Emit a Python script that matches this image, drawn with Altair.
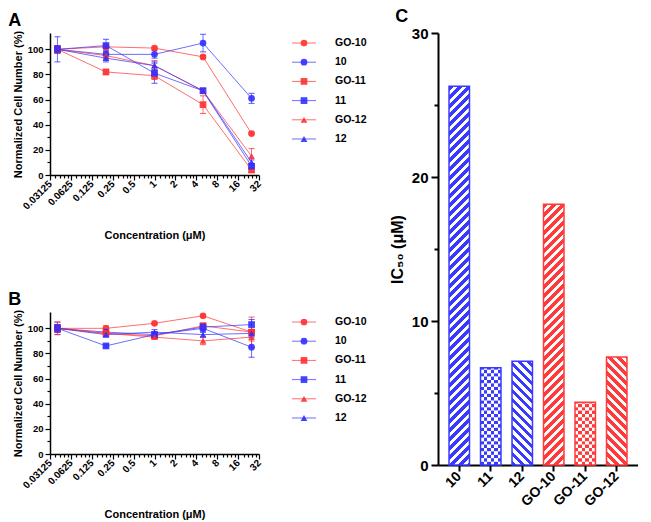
import math
import altair as alt
import pandas as pd

# ---------------- data ----------------
conc = [0.04, 0.2, 1, 5, 25]
series = ["GO-10", "10", "GO-11", "11", "GO-12", "12"]
series_colors = ["#ff3030", "#3030ff", "#ff3030", "#3030ff", "#ff3030", "#3030ff"]
series_shapes = ["circle", "circle", "square", "square", "triangle-up", "triangle-up"]

a_go10 = [100, 102, 101, 94, 33]
a_10 = [100, 96, 96, 105, 61]
a_go11 = [100, 82, 79, 56, 4]
a_11 = [100, 103, 81, 67, 7]
a_go12 = [100, 95, 87, 67, 15]
a_12 = [100, 93, 87, 67, 10]
a_err_go10 = [3, 2, 1, 1, 1]
a_err_10 = [10, 3, 3, 7, 4]
a_err_go11 = [3, 2, 3, 7, 2]
a_err_11 = [3, 5, 8, 2, 2]
a_err_go12 = [2, 3, 4, 2, 6]
a_err_12 = [2, 3, 3, 2, 2]

b_go10 = [100, 100, 104, 110, 97]
b_10 = [100, 97, 95, 100, 85]
b_go11 = [100, 96, 94, 102, 97]
b_11 = [100, 86, 95, 101, 103]
b_go12 = [100, 96, 93, 90, 93]
b_12 = [100, 95, 97, 95, 96]
b_err_go10 = [3, 2, 1, 1, 2]
b_err_10 = [5, 2, 2, 3, 8]
b_err_go11 = [5, 2, 2, 2, 12]
b_err_11 = [3, 1, 2, 3, 4]
b_err_go12 = [3, 2, 1, 3, 3]
b_err_12 = [3, 2, 2, 2, 2]

x_major = [0.03125, 0.0625, 0.125, 0.25, 0.5, 1, 2, 4, 8, 16, 32]
y_major = [0, 20, 40, 60, 80, 100]
y_minor = [10, 30, 50, 70, 90]

ic_labels = ["10", "11", "12", "GO-10", "GO-11", "GO-12"]
ic_values = [26.3, 6.75, 7.2, 18.1, 4.35, 7.5]
ic_colors = ["#3a3aff", "#3a3aff", "#3a3aff", "#ff3a3a", "#ff3a3a", "#ff3a3a"]
ic_patterns = ["fwd", "check", "back", "fwd", "check", "back"]
c_major = [0, 10, 20, 30]
c_minor = [5, 15, 25]

# ---------------- layout / style ----------------
FONT = "Liberation Sans"
PW, PH = 209, 142
CW, CH = 200, 432
C_PI, C_PO = 0.35, 0.35

minor_factors = [1.2, 1.4, 1.6, 1.8]
x_ticks = sorted(x_major + [m * f for m in x_major[:-1] for f in minor_factors])
major_list = "[" + ",".join(repr(v) for v in x_major) + "]"


def panel(letter, vals, errs):
    rows = []
    for s, v_list, e_list in zip(series, vals, errs):
        for c, v, e in zip(conc, v_list, e_list):
            rows.append(dict(series=s, conc=c, value=v, lo=v - e, hi=v + e))
    df = pd.DataFrame(rows)

    xs = alt.Scale(type="log", base=2, domain=[x_major[0], x_major[-1]], nice=False)
    ys = alt.Scale(domain=[0, 113], nice=False)
    xaxis = alt.Axis(
        values=x_ticks, format="~g",
        labelExpr=f"indexof({major_list}, datum.value) >= 0 ? datum.label : ''",
        tickSize={"condition": {"test": f"indexof({major_list}, datum.value) >= 0", "value": 5}, "value": 3},
        labelAngle=-45, labelAlign="right", labelBaseline="middle", labelFontSize=10,
        labelPadding=2, labelOverlap=False, labelFlush=False,
        title="Concentration (μM)", titleFontSize=11, titlePadding=18,
        domainWidth=1.5, tickWidth=1.2,
    )
    yaxis = alt.Axis(
        values=sorted(y_major + y_minor),
        labelExpr="datum.value % 20 == 0 ? datum.label : ''",
        tickSize={"condition": {"test": "datum.value % 20 == 0", "value": 5}, "value": 3},
        labelFontSize=9.5, labelPadding=2, title="Normalized Cell Number (%)",
        titleFontSize=11, titlePadding=4, domainWidth=1.5, tickWidth=1.2,
    )
    X = alt.X("conc:Q", scale=xs, axis=xaxis)
    Y = alt.Y("value:Q", scale=ys, axis=yaxis)
    color = alt.Color("series:N", scale=alt.Scale(domain=series, range=series_colors), legend=None)
    shape = alt.Shape("series:N", scale=alt.Scale(domain=series, range=series_shapes), legend=None)

    base = alt.Chart(df)
    lines = base.mark_line(strokeWidth=1, opacity=0.7).encode(x=X, y=Y, color=color)
    err = base.mark_rule(strokeWidth=1, opacity=0.7).encode(
        x=X, y=alt.Y("lo:Q", scale=ys, axis=yaxis), y2="hi:Q", color=color)
    cap_lo = base.mark_tick(orient="horizontal", size=6, thickness=1, opacity=0.8).encode(
        x=X, y=alt.Y("lo:Q", scale=ys, axis=yaxis), color=color)
    cap_hi = base.mark_tick(orient="horizontal", size=6, thickness=1, opacity=0.8).encode(
        x=X, y=alt.Y("hi:Q", scale=ys, axis=yaxis), color=color)
    pts = base.mark_point(filled=True, size=45, opacity=0.9).encode(x=X, y=Y, color=color, shape=shape)
    inner = alt.layer(lines, err, cap_lo, cap_hi, pts)

    legdf = pd.DataFrame({"series": series})
    LY = alt.Y("series:N", sort=series, scale=alt.Scale(type="point", range=[10, 106], padding=0), axis=None)
    lbase = alt.Chart(legdf)
    leg_rule = lbase.mark_rule(strokeWidth=1, opacity=0.7).encode(
        x=alt.value(PW + 33), x2=alt.value(PW + 57), y=LY, color=color)
    leg_pt = lbase.mark_point(filled=True, size=45, opacity=0.9).encode(
        x=alt.value(PW + 45), y=LY, color=color, shape=shape)
    leg_txt = lbase.mark_text(align="left", baseline="middle", fontSize=10.5, fontWeight="bold",
                              font=FONT, color="black").encode(x=alt.value(PW + 76), y=LY, text="series:N")

    return alt.layer(inner, leg_rule, leg_pt, leg_txt).resolve_scale(y="independent").properties(
        width=PW, height=PH,
        title=alt.TitleParams(letter, anchor="start", dx=-4, fontSize=18, fontWeight="bold",
                              font=FONT, offset=0, color="black"),
    )


pA = panel("A", [a_go10, a_10, a_go11, a_11, a_go12, a_12],
           [a_err_go10, a_err_10, a_err_go11, a_err_11, a_err_go12, a_err_12])
pB = panel("B", [b_go10, b_10, b_go11, b_11, b_go12, b_12],
           [b_err_go10, b_err_10, b_err_go11, b_err_11, b_err_go12, b_err_12])

# ---------------- panel C ----------------
step = CW / (len(ic_labels) - C_PI + 2 * C_PO)
bw = step * (1 - C_PI)


def r5(v):
    return round(v, 5)


def stripe_grad(w, h, col, direction, period=9.0, duty=0.55):
    L = w + h
    k = L / (w * w + h * h)
    a, b = k * w, k * h
    if direction == "fwd":
        x1, y1, x2, y2 = 0, 0, a, b
    else:
        x1, y1, x2, y2 = 0, 1, a, 1 - b
    stops = []
    n = int(math.ceil(L / period))
    for i in range(n):
        t0 = r5(i * period / L)
        t1 = r5(min((i + duty) * period / L, 1))
        t2 = r5(min((i + 1) * period / L, 1))
        stops += [{"offset": t0, "color": col}, {"offset": t1, "color": col},
                  {"offset": t1, "color": "white"}, {"offset": t2, "color": "white"}]
    return {"gradient": "linear", "x1": r5(x1), "y1": r5(y1), "x2": r5(x2), "y2": r5(y2), "stops": stops}


def column_grad(col, ncols, phase):
    stops = []
    for j in range(ncols):
        c = col if (j + phase) % 2 == 0 else "white"
        stops += [{"offset": r5(j / ncols), "color": c}, {"offset": r5((j + 1) / ncols), "color": c}]
    return {"gradient": "linear", "x1": 0, "y1": 0, "x2": 1, "y2": 0, "stops": stops}


cdf = pd.DataFrame({"cat": ic_labels, "value": ic_values})
cys = alt.Scale(domain=[0, 30], nice=False)
cx = alt.X("cat:N", sort=ic_labels,
           scale=alt.Scale(domain=ic_labels, paddingInner=C_PI, paddingOuter=C_PO),
           axis=alt.Axis(title=None, labelAngle=-45, labelAlign="right", labelBaseline="middle",
                         labelFontSize=14, labelPadding=3, tickSize=6, domainWidth=2, tickWidth=2))
cyaxis = alt.Axis(values=sorted(c_major + c_minor),
                  labelExpr="datum.value % 10 == 0 ? datum.label : ''",
                  tickSize={"condition": {"test": "datum.value % 10 == 0", "value": 7}, "value": 4},
                  labelFontSize=15, labelPadding=3, title="IC₅₀ (μM)", titleFontSize=16,
                  titlePadding=6, domainWidth=2, tickWidth=2)
cy = alt.Y("value:Q", scale=cys, axis=cyaxis)

c_layers = []
for cat, val, col, pat in zip(ic_labels, ic_values, ic_colors, ic_patterns):
    if pat in ("fwd", "back"):
        h = val * CH / 30.0
        g = stripe_grad(bw, h, col, pat)
        c_layers.append(alt.Chart(cdf).transform_filter(alt.datum.cat == cat)
                        .mark_bar(fill=g).encode(x=cx, y=cy))

cell_px = 3.4
cell_u = cell_px * 30.0 / CH
ncols = max(2, int(round(bw / cell_px)))
seg_rows = []
for cat, val, pat in zip(ic_labels, ic_values, ic_patterns):
    if pat == "check":
        n = int(math.ceil(val / cell_u))
        for i in range(n):
            seg_rows.append(dict(cat=cat, y0=i * cell_u, y1=min((i + 1) * cell_u, val), parity=i % 2))
segdf = pd.DataFrame(seg_rows)
for cat, col, pat in zip(ic_labels, ic_colors, ic_patterns):
    if pat == "check":
        for p in (0, 1):
            c_layers.append(
                alt.Chart(segdf)
                .transform_filter((alt.datum.cat == cat) & (alt.datum.parity == p))
                .mark_bar(fill=column_grad(col, ncols, p))
                .encode(x=cx, y=alt.Y("y0:Q", scale=cys, axis=cyaxis), y2="y1:Q"))

outline = alt.Chart(cdf).mark_bar(fillOpacity=0, strokeWidth=1.5).encode(
    x=cx, y=cy, stroke=alt.Stroke("cat:N", scale=alt.Scale(domain=ic_labels, range=ic_colors), legend=None))
c_layers.append(outline)

pC = alt.layer(*c_layers).properties(
    width=CW, height=CH,
    title=alt.TitleParams("C", anchor="start", dx=6, fontSize=18, fontWeight="bold",
                          font=FONT, offset=0, color="black"),
)

left = alt.vconcat(pA, pB, spacing=50)
chart = (
    alt.hconcat(left, pC, spacing=22)
    .properties(padding=0)
    .configure_axis(domainColor="black", tickColor="black", labelColor="black", titleColor="black",
                    labelFont=FONT, titleFont=FONT, labelFontWeight="bold", titleFontWeight="bold",
                    grid=False)
    .configure_view(stroke=None)
)

chart.save("out.html", embed_options={"renderer": "svg", "actions": False})
